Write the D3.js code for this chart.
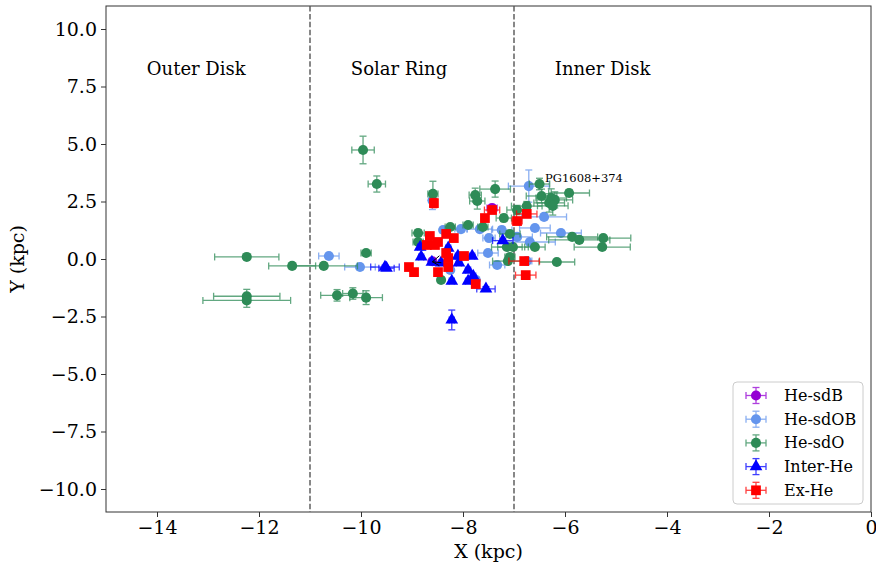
<!DOCTYPE html>
<html>
<head>
<meta charset="utf-8">
<script src="https://cdn.jsdelivr.net/npm/d3@7"></script>
<style>
  html, body { margin: 0; padding: 0; background: #fff; }
  svg { display: block; font-family: "DejaVu Serif", serif; }
</style>
</head>
<body>
<svg id="chart" width="876" height="570"></svg>
<script>
// Galactic X–Y positions of helium-rich hot subdwarfs, by class.
// Each row: [X (kpc), Y (kpc), X error, Y error]
const heSdB = [
  [-8.60, -0.10, 0.05, 0.05],
  [-7.43, 2.22, 0.10, 0.05]
];
const heSdOB = [
  [-6.71, 3.17, 0.40, 0.70],
  [-8.60, 2.55, 0.05, 0.40],
  [-10.63, 0.13, 0.20, 0.05],
  [-10.02, -0.35, 0.30, 0.05],
  [-6.41, 1.83, 0.44, 0.10],
  [-6.59, 1.35, 0.30, 0.10],
  [-6.08, 1.13, 0.40, 0.10],
  [-6.94, 0.96, 0.30, 0.10],
  [-6.69, 0.74, 0.50, 0.10],
  [-8.04, 1.30, 0.12, 0.12],
  [-8.39, 1.26, 0.05, 0.05],
  [-7.67, 1.30, 0.25, 0.10],
  [-7.49, 0.91, 0.12, 0.10],
  [-7.24, 1.26, 0.20, 0.15],
  [-7.51, 0.26, 0.20, 0.05],
  [-7.33, -0.26, 0.15, 0.05],
  [-8.25, -0.48, 0.05, 0.05],
  [-6.75, -0.09, 0.10, 0.05],
  [-7.75, -0.90, 0.05, 0.05]
];
const heSdO = [
  [-9.96, 4.74, 0.22, 0.60],
  [-9.69, 3.26, 0.17, 0.35],
  [-12.24, 0.09, 0.63, 0.05],
  [-11.35, -0.30, 0.46, 0.05],
  [-10.73, -0.30, 0.66, 0.05],
  [-9.90, 0.26, 0.10, 0.05],
  [-12.24, -1.62, 0.65, 0.30],
  [-12.24, -1.80, 0.86, 0.30],
  [-10.47, -1.58, 0.32, 0.25],
  [-10.16, -1.50, 0.20, 0.25],
  [-9.90, -1.68, 0.32, 0.30],
  [-8.59, 2.83, 0.10, 0.55],
  [-7.76, 2.78, 0.12, 0.30],
  [-7.72, 2.52, 0.15, 0.35],
  [-7.37, 3.04, 0.30, 0.35],
  [-6.50, 3.26, 0.20, 0.25],
  [-6.46, 2.74, 0.30, 0.30],
  [-6.27, 2.65, 0.30, 0.40],
  [-6.20, 2.57, 0.35, 0.35],
  [-6.31, 2.44, 0.30, 0.40],
  [-6.24, 2.31, 0.30, 0.40],
  [-5.92, 2.87, 0.40, 0.15],
  [-6.75, 2.30, 0.30, 0.20],
  [-6.94, 2.13, 0.20, 0.20],
  [-5.86, 0.96, 0.50, 0.10],
  [-5.72, 0.83, 0.60, 0.10],
  [-5.25, 0.91, 0.54, 0.10],
  [-5.27, 0.52, 0.55, 0.10],
  [-6.59, 0.52, 0.20, 0.10],
  [-6.16, -0.13, 0.35, 0.05],
  [-8.88, 1.13, 0.12, 0.15],
  [-8.88, 0.74, 0.10, 0.10],
  [-8.25, 1.39, 0.10, 0.10],
  [-7.90, 1.48, 0.10, 0.10],
  [-7.61, 1.39, 0.10, 0.10],
  [-7.20, 1.78, 0.15, 0.15],
  [-7.08, 1.09, 0.20, 0.10],
  [-7.14, 0.52, 0.30, 0.10],
  [-7.02, 0.52, 0.30, 0.10],
  [-7.08, 0.09, 0.10, 0.10],
  [-7.12, -0.09, 0.30, 0.05],
  [-8.43, -0.91, 0.05, 0.05]
];
const interHe = [
  [-9.53, -0.35, 0.28, 0.08],
  [-9.50, -0.40, 0.15, 0.05],
  [-8.84, 0.52, 0.05, 0.05],
  [-8.82, 0.09, 0.05, 0.05],
  [-8.61, -0.13, 0.05, 0.05],
  [-8.43, -0.17, 0.05, 0.05],
  [-8.29, 0.48, 0.05, 0.05],
  [-8.10, 0.13, 0.05, 0.05],
  [-8.08, -0.17, 0.05, 0.05],
  [-7.82, 0.13, 0.05, 0.05],
  [-7.90, -0.48, 0.05, 0.05],
  [-7.80, -0.74, 0.05, 0.05],
  [-7.90, -0.96, 0.05, 0.05],
  [-8.22, -0.96, 0.05, 0.05],
  [-7.55, -1.30, 0.18, 0.10],
  [-8.22, -2.65, 0.05, 0.43],
  [-7.22, 0.80, 0.20, 0.10]
];
const exHe = [
  [-8.57, 2.43, 0.05, 0.20],
  [-7.43, 2.13, 0.15, 0.10],
  [-7.57, 1.78, 0.05, 0.05],
  [-6.75, 1.96, 0.20, 0.05],
  [-6.94, 1.65, 0.10, 0.05],
  [-8.65, 1.00, 0.05, 0.05],
  [-8.71, 0.61, 0.05, 0.05],
  [-8.55, 0.61, 0.05, 0.05],
  [-8.49, 0.74, 0.05, 0.05],
  [-8.33, 1.09, 0.05, 0.05],
  [-8.18, 0.91, 0.05, 0.05],
  [-7.98, 0.13, 0.05, 0.05],
  [-8.33, 0.26, 0.05, 0.05],
  [-8.29, 0.04, 0.05, 0.05],
  [-8.29, -0.35, 0.05, 0.05],
  [-8.49, -0.57, 0.05, 0.05],
  [-9.06, -0.35, 0.05, 0.05],
  [-8.96, -0.57, 0.05, 0.05],
  [-7.75, -1.09, 0.05, 0.05],
  [-6.80, -0.09, 0.30, 0.05],
  [-6.77, -0.70, 0.20, 0.05]
];

// Class names, colours and marker shapes (drawing order)
const classNames = ["He-sdB", "He-sdOB", "He-sdO", "Inter-He", "Ex-He"];
const classColors = ["#9400d3", "#6495ed", "#2e8b57", "#0000ff", "#ff0000"];
const classShapes = ["circle", "circle", "circle", "triangle", "square"];
const classData = [heSdB, heSdOB, heSdO, interHe, exHe];

// Region boundaries and labels
const boundaries = [-11, -7];
const regionLabels = [
  { text: "Outer Disk", x: -14.2, y: 8.0 },
  { text: "Solar Ring", x: -10.2, y: 8.0 },
  { text: "Inner Disk", x: -6.2, y: 8.0 }
];
// Named star (text position in data units, next to its point)
const starLabel = { text: "PG1608+374", x: -6.39, y: 3.35 };

// Axis ticks
const xTicks = [-14, -12, -10, -8, -6, -4, -2, 0];
const yTicks = [-10, -7.5, -5, -2.5, 0, 2.5, 5, 7.5, 10];

const svg = d3.select("#chart");
const margin = { left: 106, right: 5, top: 6, bottom: 58 };
const W = 876, H = 570;

const x = d3.scaleLinear().domain([-15, 0]).range([margin.left, W - margin.right]);
const y = d3.scaleLinear().domain([-11, 11]).range([H - margin.bottom, margin.top]);

const fontFamily = '"DejaVu Serif", serif';

// Axes
const xAxis = svg.append("g")
  .attr("transform", `translate(0,${y(-11)})`)
  .call(d3.axisBottom(x).tickValues(xTicks).tickSize(5).tickPadding(4).tickFormat(d3.format("d")));
const yAxis = svg.append("g")
  .attr("transform", `translate(${x(-15)},0)`)
  .call(d3.axisLeft(y).tickValues(yTicks).tickSize(5).tickPadding(4).tickFormat(d3.format(".1f")));
[xAxis, yAxis].forEach(g => {
  g.selectAll("text").attr("font-size", 19).attr("font-family", fontFamily).attr("fill", "#000");
  g.selectAll("line").attr("stroke", "#333").attr("stroke-width", 1);
  g.select(".domain").remove();
});

// Frame
svg.append("rect")
  .attr("x", x(-15)).attr("y", y(11))
  .attr("width", x(0) - x(-15)).attr("height", y(-11) - y(11))
  .attr("fill", "none").attr("stroke", "#333").attr("stroke-width", 1);

// Axis titles
svg.append("text")
  .attr("x", (x(-15) + x(0)) / 2).attr("y", 558)
  .attr("text-anchor", "middle").attr("font-size", 19).attr("font-family", fontFamily)
  .text("X (kpc)");
svg.append("text")
  .attr("transform", `translate(24,${(y(-11) + y(11)) / 2}) rotate(-90)`)
  .attr("text-anchor", "middle").attr("font-size", 19).attr("font-family", fontFamily)
  .text("Y (kpc)");

// Region boundaries
svg.append("g").selectAll("line").data(boundaries).join("line")
  .attr("x1", d => x(d)).attr("x2", d => x(d))
  .attr("y1", y(11)).attr("y2", y(-11))
  .attr("stroke", "#555").attr("stroke-width", 1.4)
  .attr("stroke-dasharray", "5.5,2.4");

// Region labels
svg.append("g").selectAll("text").data(regionLabels).join("text")
  .attr("x", d => x(d.x)).attr("y", d => y(d.y))
  .attr("font-size", 18).attr("font-family", fontFamily)
  .text(d => d.text);

// Marker path generators
const symbolFor = shape => {
  if (shape === "triangle") return d3.symbol(d3.symbolTriangle, 70)();
  if (shape === "square") return d3.symbol(d3.symbolSquare, 95)();
  return d3.symbol(d3.symbolCircle, 80)();
};
const cap = 3.5;

function drawErrorBar(g, cx, cy, ex, ey, color) {
  const eb = g.append("g").attr("stroke", color).attr("stroke-width", 1.3).attr("opacity", 0.75);
  const x0 = cx - ex, x1 = cx + ex, y0 = cy - ey, y1 = cy + ey;
  eb.append("line").attr("x1", x0).attr("x2", x1).attr("y1", cy).attr("y2", cy);
  eb.append("line").attr("x1", cx).attr("x2", cx).attr("y1", y0).attr("y2", y1);
  eb.append("line").attr("x1", x0).attr("x2", x0).attr("y1", cy - cap).attr("y2", cy + cap);
  eb.append("line").attr("x1", x1).attr("x2", x1).attr("y1", cy - cap).attr("y2", cy + cap);
  eb.append("line").attr("x1", cx - cap).attr("x2", cx + cap).attr("y1", y0).attr("y2", y0);
  eb.append("line").attr("x1", cx - cap).attr("x2", cx + cap).attr("y1", y1).attr("y2", y1);
}

// Data points with error bars
const plot = svg.append("g");
classData.forEach((rows, i) => {
  const g = plot.append("g").attr("class", classNames[i]);
  rows.forEach(r => {
    const cx = x(r[0]), cy = y(r[1]);
    const ex = x(r[0] + r[2]) - cx, ey = cy - y(r[1] + r[3]);
    drawErrorBar(g, cx, cy, ex, ey, classColors[i]);
  });
  g.selectAll("path.pt").data(rows).join("path")
    .attr("class", "pt")
    .attr("d", symbolFor(classShapes[i]))
    .attr("transform", d => `translate(${x(d[0])},${y(d[1])})`)
    .attr("fill", classColors[i]);
});

// Small annotation arrowhead in the cluster
const arrowTip = { x: -8.60, y: -0.12 };
const ax = x(arrowTip.x), ay = y(arrowTip.y);
svg.append("path")
  .attr("d", `M${ax + 7},${ay - 6} L${ax},${ay} L${ax + 7},${ay + 4} M${ax},${ay} L${ax + 9},${ay + 1}`)
  .attr("fill", "none").attr("stroke", "#000").attr("stroke-width", 1);

// Named star label
svg.append("text")
  .attr("x", x(starLabel.x)).attr("y", y(starLabel.y))
  .attr("font-size", 11.5).attr("font-family", fontFamily)
  .text(starLabel.text);

// Legend
const lg = svg.append("g").attr("transform", "translate(733,382)");
lg.append("rect").attr("width", 130).attr("height", 122).attr("rx", 4)
  .attr("fill", "#fff").attr("fill-opacity", 0.8)
  .attr("stroke", "#ccc").attr("stroke-width", 1);
classNames.forEach((name, i) => {
  const row = lg.append("g").attr("transform", `translate(0,${13.5 + i * 23.7})`);
  drawErrorBar(row, 23, 0, 10, 8, classColors[i]);
  row.append("path").attr("d", symbolFor(classShapes[i]))
    .attr("transform", "translate(23,0)").attr("fill", classColors[i]);
  row.append("text").attr("x", 51).attr("y", 5.5)
    .attr("font-size", 16).attr("font-family", fontFamily)
    .text(name);
});
</script>
</body>
</html>
